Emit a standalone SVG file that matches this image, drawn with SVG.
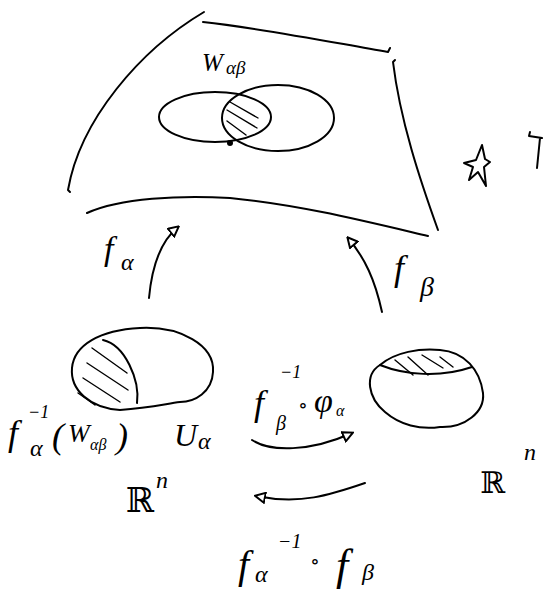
<svg xmlns="http://www.w3.org/2000/svg" width="548" height="591" viewBox="0 0 548 591">
<defs>
<style>
.s{fill:none;stroke:#000;stroke-width:2;stroke-linecap:round;stroke-linejoin:round}
.h{fill:none;stroke:#000;stroke-width:1.4;stroke-linecap:round}
.t{font-family:"Liberation Serif","DejaVu Serif",serif;font-style:italic;fill:#000}
.r{font-family:"DejaVu Serif","Liberation Serif",serif;fill:#000}
</style>
<marker id="ah" viewBox="0 0 12 12" refX="10" refY="6" markerWidth="12" markerHeight="12" markerUnits="userSpaceOnUse" orient="auto">
<path d="M1,1 L11,6 L1,11 Z" fill="#fff" stroke="#000" stroke-width="2"/>
</marker>
</defs>
<rect width="548" height="591" fill="#fff"/>
<g id="surface">
<path class="s" d="M204,12 C140,50 80,120 68,190 l2,2"/>
<path class="s" d="M203,22 C260,28 330,42 388,52 l2,-4"/>
<path class="s" d="M395,60 l-2,2 C400,120 420,180 438,230"/>
<path class="s" d="M87,213 C120,198 180,195 230,198 C300,205 360,220 428,236"/>
<ellipse class="s" cx="215" cy="117" rx="56" ry="25"/>
<ellipse class="s" cx="278" cy="118" rx="56" ry="33"/>
<path class="h" d="M230,102 L258,118 M227,110 L257,128 M227,121 L246,135"/>
<circle cx="230" cy="143" r="3" fill="#000"/>
<g id="label-W"><text class="t" x="202" y="71" font-size="25">W</text><text class="t" x="226" y="74" font-size="19">αβ</text></g>
</g>
<g id="star-T">
<path class="s" stroke-width="2.5" d="M482,145 L485,159 L490,162 L484,167 L486,186 L478,172 L469,180 L473,167 L464,163 L476,160 Z"/>
<path class="s" stroke-width="2.5" d="M530,132 l-1,4 L542,138 M540,138 L537,168"/>
</g>
<g id="U-alpha">
<path class="s" d="M140,328 C180,326 215,345 213,372 C212,392 195,402 180,402 C165,404 150,408 120,410 C90,408 70,390 72,368 C74,345 100,330 140,328 Z"/>
<path class="s" d="M103,340 C125,345 140,380 137,403"/>
<path class="h" d="M92,348 L127,373 M87,363 L128,390 M83,378 L120,402 M78,393 L95,405"/>
</g>
<g id="U-beta">
<path class="s" d="M380,365 C395,352 420,348 440,350 C465,352 480,370 483,393 C485,412 465,428 440,427 C420,430 400,425 385,412 C368,398 364,375 380,365 Z"/>
<path class="s" d="M380,365 C405,375 440,378 472,367"/>
<path class="h" d="M395,360 L413,375 M408,357 L428,375 M422,355 L443,368 M440,357 L453,367"/>
</g>
<g id="connectors">
<path class="s" d="M149,298 C152,265 162,240 178,227" marker-end="url(#ah)"/>
<path class="s" d="M382,312 C375,280 365,258 348,238" marker-end="url(#ah)"/>
<path class="s" d="M252,440 C270,452 310,452 352,433" marker-end="url(#ah)"/>
<path class="s" d="M365,483 C330,495 300,505 256,496" marker-end="url(#ah)"/>
</g>
<g id="labels">
<text class="t" x="104" y="260" font-size="34">f</text><text class="t" x="121" y="270" font-size="24">α</text>
<text class="t" x="394" y="280" font-size="36">f</text><text class="t" x="420" y="296" font-size="28">β</text>
<text class="t" x="8" y="445" font-size="36">f</text><text class="t" x="28" y="418" font-size="18">−1</text><text class="t" x="30" y="456" font-size="24">α</text>
<text class="t" x="52" y="448" font-size="36">(</text><text class="t" x="68" y="442" font-size="26">W</text><text class="t" x="90" y="450" font-size="16">αβ</text><text class="t" x="116" y="448" font-size="36">)</text>
<text class="t" x="174" y="446" font-size="32">U</text><text class="t" x="198" y="449" font-size="24">α</text>
<text class="r" x="126" y="512" font-size="34">ℝ</text><text class="t" x="156" y="488" font-size="24">n</text>
<text class="r" x="480" y="493" font-size="30">ℝ</text><text class="t" x="524" y="460" font-size="24">n</text>
<text class="t" x="254" y="415" font-size="36">f</text><text class="t" x="280" y="378" font-size="18">−1</text><text class="t" x="276" y="430" font-size="20">β</text><text class="t" x="298" y="412" font-size="20">∘</text><text class="t" x="314" y="412" font-size="34">φ</text><text class="t" x="336" y="416" font-size="16">α</text>
<text class="t" x="238" y="578" font-size="40">f</text><text class="t" x="255" y="582" font-size="24">α</text><text class="t" x="278" y="548" font-size="20">−1</text><text class="t" x="310" y="568" font-size="20">∘</text><text class="t" x="336" y="580" font-size="44">f</text><text class="t" x="362" y="580" font-size="24">β</text>
</g>
</svg>
